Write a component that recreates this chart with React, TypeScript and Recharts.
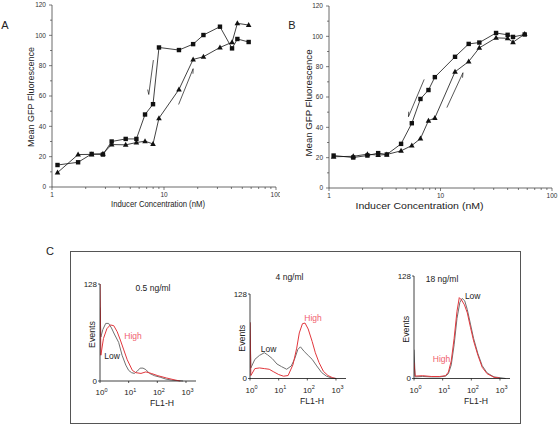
import React from 'react';
import { LineChart, Line, XAxis, YAxis, ReferenceLine } from 'recharts';

const FONT = '"Liberation Sans", Arial, Helvetica, sans-serif';
const INK = '#111';
const AXIS = '#444';
const GREY = '#707070';
const RED = '#e2373d';
const PINK = '#f0606e';

// A: inducer concentration (nM) and mean GFP for the two sweeps
const concA = [1.12, 1.71, 2.26, 2.85, 3.41, 4.55, 5.67, 6.77, 7.98, 9.02, 13.6, 18.2, 22.5, 31.6, 40.5, 45.2, 57];
const squaresA = [14.5, 16.3, 21.8, 21.4, 30, 31.7, 31.7, 47.8, 54.6, 92, 90.3, 94.2, 100.2, 105.7, 91.4, 97.6, 95.6];
const trianglesA = [9.5, 21.4, 21.5, 22, 28, 27.8, 29.3, 30.2, 28.4, 45.4, 64.3, 84.1, 85.9, 92, 95.4, 107.9, 106.8];

// B
const concB = [1.1, 1.65, 2.21, 2.76, 3.3, 4.43, 5.53, 6.61, 7.8, 8.9, 13.5, 17.9, 22.3, 31.5, 40, 44.7, 56.9];
const squaresB = [21.4, 20.1, 21.4, 23, 22.1, 29.1, 42.7, 58.7, 64.6, 73.1, 86.5, 95, 95.9, 102.2, 101, 99.6, 101.2];
const trianglesB = [20.6, 20.9, 22.3, 21.7, 22.1, 24.5, 28, 32.6, 44.4, 46.2, 76.6, 83.4, 92.4, 99, 98.7, 96.1, 101.5];

// arrows: [tailConc, tailGfp, headConc, headGfp]
const arrowsA = [[8.04, 83.7, 7.31, 61], [13.5, 54.4, 18.2, 78]];
const arrowsB = [[7.14, 71.6, 5.16, 47], [11.4, 53, 15.9, 76]];

const logTicks = [1, 2, 3, 4, 5, 6, 7, 8, 9, 10, 20, 30, 40, 50, 60, 70, 80, 90, 100];
const gfpTicks = [0, 10, 20, 30, 40, 50, 60, 70, 80, 90, 100, 110, 120];

// C: FL1-H histograms, x in log10 units
const h1LowX = [0, 0.03, 0.1, 0.2, 0.3, 0.4, 0.5, 0.65, 0.77, 0.9, 1.0, 1.1, 1.2, 1.3, 1.4, 1.5, 1.6, 1.73, 1.9, 2.1, 2.3, 2.5, 2.7, 2.9];
const h1Low = [97, 58, 68, 76, 76, 70, 62, 51, 34, 21, 14, 11, 10, 13, 17, 17, 15, 10, 7, 5, 2.5, 1.2, 0.5, 0];
const h1HighX = [0, 0.03, 0.12, 0.24, 0.36, 0.48, 0.6, 0.71, 0.83, 0.95, 1.13, 1.25, 1.43, 1.6, 1.79, 2.02, 2.32, 2.62, 2.8];
const h1High = [128, 34, 56, 69, 74, 73, 65, 54, 41, 28, 14, 11, 10, 12, 10, 7, 4, 1.3, 0];

const h2LowX = [0, 0.03, 0.17, 0.33, 0.5, 0.61, 0.78, 0.94, 1.1, 1.28, 1.44, 1.56, 1.67, 1.76, 1.89, 2.03, 2.17, 2.33, 2.5, 2.67, 2.83, 3.0];
const h2Low = [85, 16, 29, 35, 39, 36, 30, 22, 18, 14, 19, 30, 44, 48, 41, 35, 29, 19, 9, 3.5, 1, 0];
const h2HighX = [0, 0.03, 0.17, 0.33, 0.5, 0.67, 0.83, 1.0, 1.17, 1.33, 1.5, 1.63, 1.72, 1.83, 1.92, 2.03, 2.17, 2.28, 2.41, 2.56, 2.72, 2.89, 3.0];
const h2High = [85, 4.5, 15, 16, 15, 14, 10, 6, 3.5, 4.5, 21, 46, 69, 83, 84, 75, 56, 39, 24, 11, 4.5, 1, 0];

const h3LowX = [0, 0.04, 0.3, 0.6, 0.9, 1.1, 1.2, 1.3, 1.4, 1.5, 1.6, 1.68, 1.77, 1.86, 1.97, 2.08, 2.23, 2.38, 2.55, 2.79, 3.0, 3.2];
const h3Low = [36, 2, 2.5, 2, 2, 3, 6, 17, 42, 75, 95, 100, 97, 86, 68, 50, 31, 16, 7, 2, 1, 0];
const h3HighX = [0, 0.04, 0.3, 0.6, 0.9, 1.1, 1.2, 1.3, 1.4, 1.5, 1.58, 1.66, 1.76, 1.86, 1.97, 2.08, 2.23, 2.38, 2.55, 2.79, 3.0];
const h3High = [20, 3, 3.5, 2.5, 2.5, 3.5, 8, 22, 50, 84, 101, 98, 92, 82, 64, 47, 29, 14, 6, 1.5, 0.5];

const histTicks = [0, 1, 2, 3];

const zip = (xs: number[], ys: number[]) => xs.map((x, i) => ({ x, y: ys[i] }));

const renderSquare = (p: any) => (
  <rect key={`s${p.index}`} x={p.cx - 2.2} y={p.cy - 2.2} width={4.4} height={4.4} fill={INK} />
);
const renderTriangle = (p: any) => (
  <polygon key={`t${p.index}`} points={`${p.cx},${p.cy - 3} ${p.cx - 2.8},${p.cy + 2} ${p.cx + 2.8},${p.cy + 2}`} fill={INK} />
);

const arrowShape = (p: any) => {
  const { x1, y1, x2, y2 } = p;
  const a = Math.atan2(y2 - y1, x2 - x1);
  const L = 5;
  const bx = x2 - L * Math.cos(a - 0.35);
  const by = y2 - L * Math.sin(a - 0.35);
  return (
    <g>
      <line x1={x1} y1={y1} x2={x2} y2={y2} stroke={INK} strokeWidth={0.7} />
      <line x1={x2} y1={y2} x2={bx} y2={by} stroke={INK} strokeWidth={0.7} />
    </g>
  );
};

const LogTick = (p: any) => {
  const v = p.payload.value;
  const major = v === 1 || v === 10 || v === 100;
  return (
    <g>
      <line x1={p.x} y1={p.y} x2={p.x} y2={p.y + (major ? 3 : 2)} stroke={AXIS} strokeWidth={0.7} />
      {major && (
        <text x={p.x} y={p.y + 9.5} textAnchor="middle" fontSize={6.5} fill="#333" fontFamily={FONT}>
          {v}
        </text>
      )}
    </g>
  );
};

const GfpTick = (p: any) => {
  const v = p.payload.value;
  const major = v % 20 === 0;
  return (
    <g>
      <line x1={p.x - (major ? 3 : 2)} y1={p.y} x2={p.x} y2={p.y} stroke={AXIS} strokeWidth={0.7} />
      {major && (
        <text x={p.x - 6} y={p.y} dy="0.35em" textAnchor="end" fontSize={6.5} fill="#333" fontFamily={FONT}>
          {v}
        </text>
      )}
    </g>
  );
};

const xTitle = (text: string, size: number, len: number, dx: number, baseline: number) => (p: any) => {
  const vb = p.viewBox;
  return (
    <text x={vb.x + vb.width / 2 + dx} y={vb.y + baseline} textAnchor="middle" fontSize={size} fill="#222"
      fontFamily={FONT} textLength={len} lengthAdjust="spacingAndGlyphs">
      {text}
    </text>
  );
};

const yTitle = (text: string, size: number, len: number, cx: number, dy: number) => (p: any) => {
  const vb = p.viewBox;
  const cy = vb.y + vb.height / 2 + dy;
  const x = vb.x + cx;
  return (
    <text x={x} y={cy} transform={`rotate(-90, ${x}, ${cy})`} textAnchor="middle" dominantBaseline="central"
      fontSize={size} fill="#222" fontFamily={FONT} textLength={len} lengthAdjust="spacingAndGlyphs">
      {text}
    </text>
  );
};

function DosePanel(props: any) {
  const { left, width, height, top, right, yWidth, conc, squares, triangles, arrows, xLen, xSize, xBase, yLen, yCx, yDy, xDx } = props;
  const sq = conc.map((c: number, i: number) => ({ c, v: squares[i] }));
  const tri = conc.map((c: number, i: number) => ({ c, v: triangles[i] }));
  return (
    <div style={{ position: 'absolute', left, top: 0 }}>
      <LineChart width={width} height={height} margin={{ top, right, left: 0, bottom: 0 }}>
        <XAxis dataKey="c" type="number" scale="log" domain={[1, 100]} ticks={logTicks} interval={0}
          allowDataOverflow tick={<LogTick />} tickLine={false} tickSize={0} tickMargin={0} height={28}
          axisLine={{ stroke: AXIS, strokeWidth: 0.8 }}
          label={xTitle('Inducer Concentration (nM)', xSize, xLen, xDx, xBase)} />
        <YAxis type="number" domain={[0, 120]} ticks={gfpTicks} interval={0} width={yWidth}
          tick={<GfpTick />} tickLine={false} tickSize={0} tickMargin={0}
          axisLine={{ stroke: AXIS, strokeWidth: 0.8 }}
          label={yTitle('Mean GFP Fluorescence', 9, yLen, yCx, yDy)} />
        <Line data={sq} dataKey="v" stroke={INK} strokeWidth={0.8} dot={renderSquare} isAnimationActive={false} />
        <Line data={tri} dataKey="v" stroke={INK} strokeWidth={0.8} dot={renderTriangle} isAnimationActive={false} />
        {arrows.map((a: number[], i: number) => (
          <ReferenceLine key={i} segment={[{ x: a[0], y: a[1] }, { x: a[2], y: a[3] }]} shape={arrowShape} ifOverflow="visible" />
        ))}
      </LineChart>
    </div>
  );
}

const HistXTick = (p: any) => (
  <g>
    <line x1={p.x} y1={p.y} x2={p.x} y2={p.y + 2} stroke={INK} strokeWidth={0.7} />
    <text x={p.x - 4.4} y={p.y + 14} fontSize={8} fill="#222" fontFamily={FONT}>
      10<tspan dy={-3.5} fontSize={5.5}>{p.payload.value}</tspan>
    </text>
  </g>
);

const HistYTick = (p: any) => (
  <g>
    <line x1={p.x - 2} y1={p.y} x2={p.x} y2={p.y} stroke={INK} strokeWidth={0.7} />
    <text x={p.x - 3} y={p.y} dy="0.35em" textAnchor="end" fontSize={8} fill="#222" fontFamily={FONT}>
      {p.payload.value}
    </text>
  </g>
);

function Histogram(props: any) {
  const { axisX, plotTop, plotBottom, low, high } = props;
  const yW = 30;
  const mTop = 8;
  const xH = 32;
  const plotW = 96;
  return (
    <div style={{ position: 'absolute', left: axisX - yW, top: plotTop - mTop }}>
      <LineChart width={yW + plotW + 4} height={plotBottom - plotTop + mTop + xH}
        margin={{ top: mTop, right: 4, left: 0, bottom: 0 }}>
        <XAxis dataKey="x" type="number" domain={[0, 3.35]} ticks={histTicks} interval={0} allowDataOverflow
          tick={<HistXTick />} tickLine={false} tickSize={0} tickMargin={0} height={xH}
          axisLine={{ stroke: INK, strokeWidth: 0.8 }}
          label={xTitle('FL1-H', 8.5, 24, 14, 25)} />
        <YAxis type="number" domain={[0, 128]} ticks={[0, 128]} interval={0} width={yW}
          tick={<HistYTick />} tickLine={false} tickSize={0} tickMargin={0}
          axisLine={{ stroke: INK, strokeWidth: 0.8 }}
          label={yTitle('Events', 8.5, 27, yW - 8, 2)} />
        <Line data={low} dataKey="y" stroke={GREY} strokeWidth={1} dot={false} isAnimationActive={false} />
        <Line data={high} dataKey="y" stroke={RED} strokeWidth={1} dot={false} isAnimationActive={false} />
      </LineChart>
    </div>
  );
}

const Txt = ({ x, y, color = '#222', size = 8.5, children }: any) => (
  <div style={{ position: 'absolute', left: x, top: y, transform: 'translate(-50%, -50%)', fontSize: size,
    color, fontFamily: FONT, whiteSpace: 'nowrap', lineHeight: 1 }}>
    {children}
  </div>
);

export default function App() {
  return (
    <div style={{ position: 'absolute', left: 0, top: 0, width: 558, height: 425, background: '#fff', overflow: 'hidden' }}>
      <DosePanel left={0} width={280} height={215} top={5} right={4} yWidth={52}
        conc={concA} squares={squaresA} triangles={trianglesA} arrows={arrowsA}
        xLen={94} xSize={9} xBase={20} xDx={-6} yLen={100} yCx={31} yDy={1} />
      <DosePanel left={278} width={280} height={216} top={6} right={6} yWidth={51}
        conc={concB} squares={squaresB} triangles={trianglesB} arrows={arrowsB}
        xLen={128} xSize={9.5} xBase={21} xDx={-21} yLen={107} yCx={31} yDy={6} />
      <Txt x={5} y={25} size={11}>A</Txt>
      <Txt x={292} y={25} size={11}>B</Txt>
      <Txt x={50} y={251} size={11}>C</Txt>

      <div style={{ position: 'absolute', left: 70, top: 251, width: 451, height: 173, border: '1px solid #555', boxSizing: 'border-box' }} />

      <Histogram axisX={100} plotTop={283.5} plotBottom={380.5} low={zip(h1LowX, h1Low)} high={zip(h1HighX, h1High)} />
      <Histogram axisX={250} plotTop={294} plotBottom={378.5} low={zip(h2LowX, h2Low)} high={zip(h2HighX, h2High)} />
      <Histogram axisX={414} plotTop={275.5} plotBottom={378} low={zip(h3LowX, h3Low)} high={zip(h3HighX, h3High)} />

      <Txt x={153} y={288}>0.5 ng/ml</Txt>
      <Txt x={289.5} y={277}>4 ng/ml</Txt>
      <Txt x={442} y={279}>18 ng/ml</Txt>
      <Txt x={133} y={336} color={PINK}>High</Txt>
      <Txt x={112} y={356}>Low</Txt>
      <Txt x={268.5} y={349}>Low</Txt>
      <Txt x={313} y={318} color={PINK}>High</Txt>
      <Txt x={472.7} y={295.5}>Low</Txt>
      <Txt x={441.5} y={359} color={PINK}>High</Txt>
    </div>
  );
}
